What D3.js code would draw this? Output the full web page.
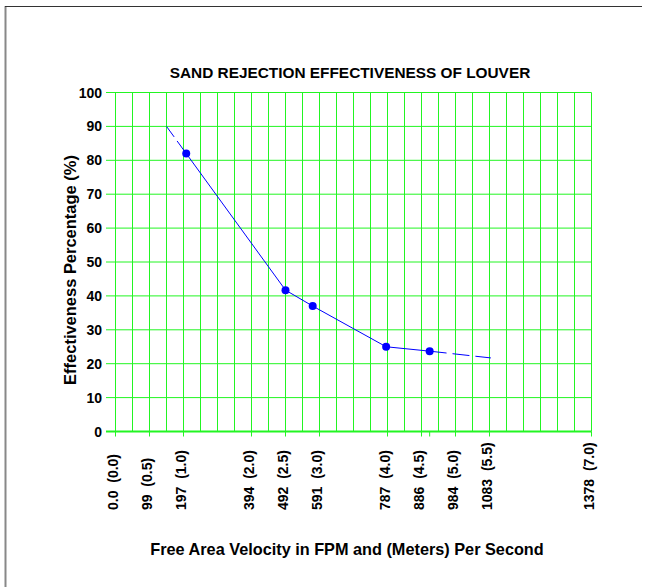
<!DOCTYPE html>
<html><head><meta charset="utf-8">
<script src="https://cdn.jsdelivr.net/npm/d3@7"></script>
<style>
body{margin:0;background:#fff}
text{font-family:"Liberation Sans",Arial,sans-serif;font-weight:bold;fill:#000}
</style>
</head><body><svg id="c" width="646" height="587"></svg>
<script>
const title = "SAND REJECTION EFFECTIVENESS OF LOUVER";
const xTitle = "Free Area Velocity in FPM and (Meters) Per Second";
const yTitle = "Effectiveness Percentage (%)";
const yTicks = [0,10,20,30,40,50,60,70,80,90,100];
const xTicksMs = [0, 0.5, 1.0, 2.0, 2.5, 3.0, 4.0, 4.5, 5.0, 5.5, 7.0];
const xTickFpm = ["0.0","99","197","394","492","591","787","886","984","1083","1378"];
const xTickMsLabels = ["0.0","0.5","1.0","2.0","2.5","3.0","4.0","4.5","5.0","5.5","7.0"];
const extraTicksMs = [4.62];
const pointMs = [1.04, 2.5, 2.9, 3.98, 4.62];
const pointPct = [82, 41.7, 37, 25, 23.7];
const headMs = [0.75, 1.04], headPct = [90, 82];
const tailMs = [4.62, 5.52], tailPct = [23.7, 21.7];

const svg = d3.select("#c");
const x = d3.scaleLinear().domain([0, 7]).range([115.5, 591.5]);
const y = d3.scaleLinear().domain([0, 100]).range([431.5, 92.5]);
const green = "#22f522";

// frame
svg.append("line").attr("x1",5.5).attr("x2",5.5).attr("y1",6).attr("y2",587).attr("stroke","#888").attr("stroke-width",2);
svg.append("line").attr("x1",5).attr("x2",642).attr("y1",6.5).attr("y2",6.5).attr("stroke","#333").attr("stroke-width",1);

// grid
const gridX = d3.range(0, 28.5).map(i => i * 0.25);
svg.append("g").selectAll("line").data(gridX).join("line")
  .attr("x1", d => x(d)).attr("x2", d => x(d))
  .attr("y1", y(100)).attr("y2", y(0))
  .attr("stroke", green).attr("stroke-width", 1);
svg.append("g").selectAll("line").data(yTicks).join("line")
  .attr("x1", 106).attr("x2", x(7))
  .attr("y1", d => y(d)).attr("y2", d => y(d))
  .attr("stroke", green).attr("stroke-width", d => d === 0 ? 2 : 1);

// x ticks
svg.append("g").selectAll("line").data(xTicksMs.concat(extraTicksMs)).join("line")
  .attr("x1", d => x(d)).attr("x2", d => x(d))
  .attr("y1", y(0)).attr("y2", y(0) + 5)
  .attr("stroke", green).attr("stroke-width", 1);

// y labels
svg.append("g").selectAll("text").data(yTicks).join("text")
  .attr("x", 102).attr("y", d => y(d)).attr("dy", "0.36em")
  .attr("text-anchor", "end").attr("font-size", 14).text(d => d);

// x labels
svg.append("g").selectAll("text").data(xTicksMs).join("text")
  .attr("transform", d => `translate(${x(d) - 3},510) rotate(-90)`)
  .attr("dy", "0.36em").attr("font-size", 14)
  .style("white-space", "pre")
  .text((d, i) => xTickFpm[i] + "  (" + xTickMsLabels[i] + ")");

// lines
const line = d3.line().x(d => x(d[0])).y(d => y(d[1]));
const pts = pointMs.map((m, i) => [m, pointPct[i]]);
svg.append("path").attr("d", line(pts)).attr("fill","none").attr("stroke","#0000ff").attr("stroke-width",1);
svg.append("path").attr("d", line(headMs.map((m,i)=>[m, headPct[i]]))).attr("fill","none")
  .attr("stroke","#0000ff").attr("stroke-width",1).attr("stroke-dasharray","13,5");
svg.append("path").attr("d", line(tailMs.map((m,i)=>[m, tailPct[i]]))).attr("fill","none")
  .attr("stroke","#0000ff").attr("stroke-width",1).attr("stroke-dasharray","17,6");
svg.append("g").selectAll("circle").data(pts).join("circle")
  .attr("cx", d => x(d[0])).attr("cy", d => y(d[1])).attr("r", 4).attr("fill", "#0000ff");

// titles
function fit(sel, w){ const n = sel.node(); const l = n.getComputedTextLength(); const fs = parseFloat(sel.attr("font-size")); sel.attr("font-size", fs * w / l); }
const t = svg.append("text").attr("x", 350).attr("y", 78).attr("text-anchor","middle").attr("font-size",14).text(title);
fit(t, 361);
const xt = svg.append("text").attr("x", 347).attr("y", 555).attr("text-anchor","middle").attr("font-size",14).text(xTitle);
fit(xt, 394);
const yt = svg.append("text").attr("transform","translate(76,270) rotate(-90)").attr("text-anchor","middle").attr("font-size",14).text(yTitle);
fit(yt, 230);
</script></body></html>
